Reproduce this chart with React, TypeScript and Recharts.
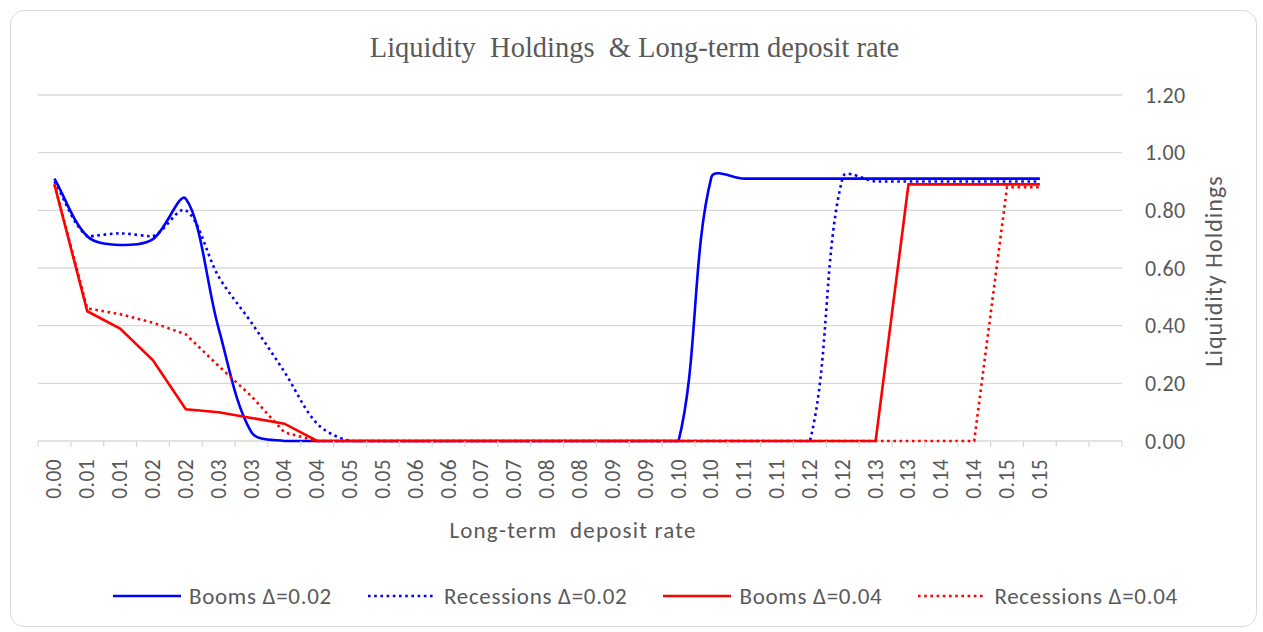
import React from "react";
import { LineChart, Line, XAxis, YAxis, CartesianGrid } from "recharts";

// x categories (deposit rate, step 0.005, shown with 2 decimals) + two empty slots
const xLabels = [
  "0.00", "0.01", "0.01", "0.02", "0.02", "0.03", "0.03", "0.04", "0.04", "0.05",
  "0.05", "0.06", "0.06", "0.07", "0.07", "0.08", "0.08", "0.09", "0.09", "0.10",
  "0.10", "0.11", "0.11", "0.12", "0.12", "0.13", "0.13", "0.14", "0.14", "0.15",
  "0.15", "", "",
];

const boomsD02 = [
  0.91, 0.71, 0.68, 0.70, 0.84, 0.39, 0.03, 0, 0, 0,
  0, 0, 0, 0, 0, 0, 0, 0, 0, 0,
  0.915, 0.91, 0.91, 0.91, 0.91, 0.91, 0.91, 0.91, 0.91, 0.91,
  0.91,
];
const recessionsD02 = [
  0.90, 0.71, 0.72, 0.71, 0.80, 0.57, 0.41, 0.24, 0.06, 0,
  0, 0, 0, 0, 0, 0, 0, 0, 0, 0,
  0, 0, 0, 0, 0.915, 0.90, 0.90, 0.90, 0.90, 0.90,
  0.90,
];
const boomsD04 = [
  0.89, 0.45, 0.39, 0.28, 0.11, 0.10, 0.08, 0.06, 0, 0,
  0, 0, 0, 0, 0, 0, 0, 0, 0, 0,
  0, 0, 0, 0, 0, 0, 0.89, 0.89, 0.89, 0.89,
  0.89,
];
const recessionsD04 = [
  0.89, 0.46, 0.44, 0.41, 0.37, 0.26, 0.155, 0.03, 0, 0,
  0, 0, 0, 0, 0, 0, 0, 0, 0, 0,
  0, 0, 0, 0, 0, 0, 0, 0, 0, 0.88,
  0.88,
];

const yTicks = [0, 0.2, 0.4, 0.6, 0.8, 1.0, 1.2];

const series = [
  { key: "boomsD02", name: "Booms Δ=0.02", color: "#0000FF", dotted: false, smooth: true, values: boomsD02 },
  { key: "recessionsD02", name: "Recessions Δ=0.02", color: "#0000FF", dotted: true, smooth: true, values: recessionsD02 },
  { key: "boomsD04", name: "Booms Δ=0.04", color: "#FF0000", dotted: false, smooth: false, values: boomsD04 },
  { key: "recessionsD04", name: "Recessions Δ=0.04", color: "#FF0000", dotted: true, smooth: false, values: recessionsD04 },
];

const data = xLabels.map((label, i) => {
  const row: any = { i, label };
  series.forEach((s) => {
    row[s.key] = i < s.values.length ? s.values[i] : null;
  });
  return row;
});

const W = 1263;
const H = 632;
const MARGIN = { top: 95, right: 20, left: 38, bottom: 91 };
const Y_AXIS_W = 121;
const X_AXIS_H = 100;
const PLOT_W = W - MARGIN.left - MARGIN.right - Y_AXIS_W;
const PLOT_BOTTOM = H - MARGIN.bottom - X_AXIS_H;
const HALF_BAND = PLOT_W / xLabels.length / 2;

const FONT = "Carlito, Lato, 'Liberation Sans', sans-serif";
const TEXT = "#595959";
const GRID = "#d9d9d9";
const DOTS = "2.6 3.6";

// excel-ish smoothing: catmull-rom whose arms scale with the adjacent segment length,
// control points are kept from sinking below the lower end of their segment
const excelSmooth = (context: any) => {
  let pts: number[][] = [];
  return {
    areaStart() {},
    areaEnd() {},
    lineStart() {
      pts = [];
    },
    point(x: number, y: number) {
      pts.push([+x, +y]);
    },
    lineEnd() {
      const n = pts.length;
      if (!n) return;
      context.moveTo(pts[0][0], pts[0][1]);
      if (n === 1) return;
      const arms = pts.map((p, i) => {
        const prev = pts[Math.max(i - 1, 0)];
        const next = pts[Math.min(i + 1, n - 1)];
        const tx = next[0] - prev[0];
        const ty = next[1] - prev[1];
        const d1 = Math.hypot(p[0] - prev[0], p[1] - prev[1]);
        const d2 = Math.hypot(next[0] - p[0], next[1] - p[1]);
        const s = d1 + d2 || 1;
        return {
          inX: p[0] - (tx * d1) / s / 3,
          inY: p[1] - (ty * d1) / s / 3,
          outX: p[0] + (tx * d2) / s / 3,
          outY: p[1] + (ty * d2) / s / 3,
        };
      });
      for (let i = 1; i < n; i++) {
        const low = Math.max(pts[i - 1][1], pts[i][1]);
        context.bezierCurveTo(
          arms[i - 1].outX,
          Math.min(arms[i - 1].outY, low),
          arms[i].inX,
          Math.min(arms[i].inY, low),
          pts[i][0],
          pts[i][1]
        );
      }
    },
  };
};

const XTick = (props: any) => {
  const { x, y, payload } = props;
  const idx = payload.value;
  const isLast = idx === xLabels.length - 1;
  return (
    <g>
      <line x1={x - HALF_BAND} x2={x - HALF_BAND} y1={PLOT_BOTTOM} y2={PLOT_BOTTOM + 6} stroke={GRID} strokeWidth={1.3} />
      {isLast && (
        <line x1={x + HALF_BAND} x2={x + HALF_BAND} y1={PLOT_BOTTOM} y2={PLOT_BOTTOM + 6} stroke={GRID} strokeWidth={1.3} />
      )}
      <text
        x={x}
        y={y}
        transform={`rotate(-90, ${x}, ${y})`}
        textAnchor="end"
        dominantBaseline="central"
        fill={TEXT}
        fontSize={21.5}
        letterSpacing={0.4}
        fontFamily={FONT}
      >
        {xLabels[idx]}
      </text>
    </g>
  );
};

const XTitle = (props: any) => {
  const { x, y, width } = props.viewBox;
  return (
    <text
      x={x + width / 2 - 7}
      y={y + 97}
      textAnchor="middle"
      fill={TEXT}
      fontSize={23}
      letterSpacing={1.2}
      fontFamily={FONT}
      style={{ whiteSpace: "pre" }}
    >
      {"Long-term  deposit rate"}
    </text>
  );
};

const YTitle = (props: any) => {
  const { x, y, width, height } = props.viewBox;
  const cx = x + width - 30;
  const cy = y + height / 2 + 3;
  return (
    <text
      x={cx}
      y={cy}
      transform={`rotate(-90, ${cx}, ${cy})`}
      textAnchor="middle"
      dominantBaseline="central"
      fill={TEXT}
      fontSize={24}
      letterSpacing={1}
      fontFamily={FONT}
    >
      Liquidity Holdings
    </text>
  );
};

const LegendSample = ({ color, dotted }: { color: string; dotted: boolean }) => (
  <svg width={68} height={10} style={{ display: "block" }}>
    <line x1={0} x2={68} y1={5} y2={5} stroke={color} strokeWidth={2.6} strokeDasharray={dotted ? DOTS : undefined} />
  </svg>
);

export default function App() {
  return (
    <div style={{ position: "absolute", left: 0, top: 0, width: W, height: H, background: "#fff" }}>
      <div
        style={{
          position: "absolute",
          left: 10,
          top: 10,
          width: 1247,
          height: 617,
          border: `1px solid ${GRID}`,
          borderRadius: 14,
          boxSizing: "border-box",
        }}
      />
      <div
        style={{
          position: "absolute",
          left: 0,
          top: 33,
          width: W,
          paddingLeft: 6,
          boxSizing: "border-box",
          textAlign: "center",
          fontFamily: "'Liberation Serif', 'Times New Roman', serif",
          fontSize: 28.5,
          lineHeight: "30px",
          color: TEXT,
          whiteSpace: "pre",
        }}
      >
        {"Liquidity  Holdings  & Long-term deposit rate"}
      </div>
      <div style={{ position: "absolute", left: 0, top: 0 }}>
        <LineChart width={W} height={H} data={data} margin={MARGIN}>
          <CartesianGrid vertical={false} stroke={GRID} strokeWidth={1.3} />
          <XAxis
            dataKey="i"
            type="number"
            domain={[-0.5, xLabels.length - 0.5]}
            ticks={xLabels.map((_, i) => i)}
            interval={0}
            height={X_AXIS_H}
            tickLine={false}
            tickMargin={12}
            axisLine={false}
            tick={(p: any) => <XTick {...p} />}
            label={(p: any) => <XTitle {...p} />}
          />
          <YAxis
            orientation="right"
            domain={[0, 1.2]}
            ticks={yTicks}
            width={Y_AXIS_W}
            axisLine={false}
            tickLine={false}
            tickMargin={17}
            tickFormatter={(v: number) => v.toFixed(2)}
            tick={{ fill: TEXT, fontSize: 22, fontFamily: FONT, letterSpacing: 0.4 }}
            label={(p: any) => <YTitle {...p} />}
          />
          {series.map((s) => (
            <Line
              key={s.key}
              dataKey={s.key}
              name={s.name}
              type={s.smooth ? (excelSmooth as any) : "linear"}
              stroke={s.color}
              strokeWidth={2.6}
              strokeDasharray={s.dotted ? DOTS : undefined}
              dot={false}
              activeDot={false}
              isAnimationActive={false}
            />
          ))}
        </LineChart>
      </div>
      <div
        style={{
          position: "absolute",
          left: 113,
          top: 583,
          display: "flex",
          alignItems: "center",
          gap: 36,
          fontFamily: FONT,
          fontSize: 23,
          letterSpacing: 0.7,
          color: TEXT,
          lineHeight: "26px",
          whiteSpace: "nowrap",
        }}
      >
        {series.map((s) => (
          <div key={s.key} style={{ display: "flex", alignItems: "center", gap: 8 }}>
            <LegendSample color={s.color} dotted={s.dotted} />
            <span>{s.name}</span>
          </div>
        ))}
      </div>
    </div>
  );
}
